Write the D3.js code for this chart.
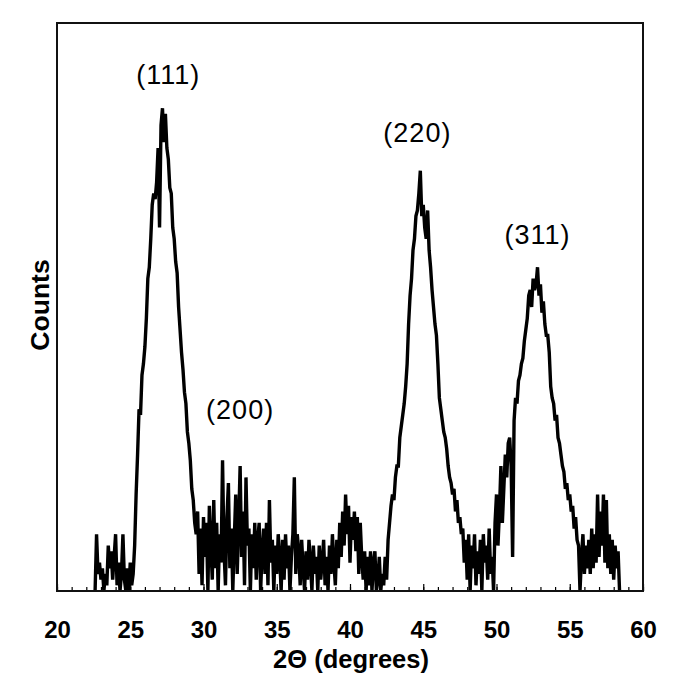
<!DOCTYPE html>
<html>
<head>
<meta charset="utf-8">
<script src="https://cdn.jsdelivr.net/npm/d3@7"></script>
<style>
  body { margin: 0; background: #fff; }
  svg { display: block; font-family: "Liberation Sans", Arial, sans-serif; }
</style>
</head>
<body>
<div id="chart"></div>
<script>
// scan grid (degrees 2-theta)
var scanStart = 22.6, scanStep = 0.1;

// counts, split by region of the scan
var bgLow = [0,10,3,5,2,4,0,3,1,8,
             4,7,2,6,10,1,5,0,3,10,
             2,0,4,0,5,1,3];
var peak111 = [8,17,24,32,31,38,40,43,48,55,
               57,62,68,70,69,72,78,64,82,85,
               79,84,78,76,71,70,64,62,58,56,
               50,46,42,39,35,33,28,26,23,18,
               16,12,10];
var bgMid = [14,3,11,1,13,6,12,0,15,8,
             2,16,4,12,0,10,5,23,7,1,
             13,19,4,11,0,9,17,3,12,22,
             6,14,1,20,8,11,0,10,4,12,
             2,9,12,0,7,11,3,12,1,16,
             5,9,0,8,3,10,6,0,9,2,
             10,4,8,0,6,10,20,3,10,7,
             1,9,4,0,7,2,9,5,0,8,
             3,6,0,8,2,5,9,1,6,0,
             8,3,10,5,1,9,4,12,6,14,
             8,17,10,15,5,13,9,14,7,13,
             3,12,6,2,7,0,6,1,7,0,
             5,7,0,2,6,0,3,1,6,2];
var peak220 = [9,12,15,17,16,20,22,22,27,29,
               31,33,36,40,47,52,55,60,62,66,
               67,70,74,66,68,64,62,67,60,57,
               53,50,47,45,40,34,32,30,28,27,
               25,22,20,19,17,18,14,16,12,13,
               10,11,5,9];
var bgGap = [2,10,0,8,4,10,1,7,3,9,
             0,10,5,8,2,11,3,6,0,12];
var peak311 = [17,8,14,22,12,18,24,20,26,27,
               22,6,30,34,33,37,38,40,41,44,
               46,48,52,53,50,55,53,54,57,52,
               54,49,51,47,45,45,42,36,34,33,
               30,31,27,26,24,22,21,18,19,16,
               17,14,15,11,13,9,8,0];
var bgHigh = [6,10,3,8,4,9,3,11,4,10,
              5,17,6,14,8,17,5,16,4,10,
              3,9,2,8,4,7,0];

// reflection labels
var hklLabels = ["(111)", "(200)", "(220)", "(311)"];
var hklAngles = [27.6, 32.5, 44.6, 52.8];
var hklCounts = [89.3, 30.3, 79.0, 61.1];

var xTicks = [20, 25, 30, 35, 40, 45, 50, 55, 60];

drawChart();

function drawChart(){

    var counts = [].concat(bgLow, peak111, bgMid, peak220, bgGap, peak311, bgHigh);
    var scan = counts.map(function(c, i){
        return { angle: scanStart + i * scanStep, count: c };
    });

    var width = 685, height = 682;
    var m = { left: 57, right: 643, top: 23, bottom: 591 };

    var svg = d3.select("#chart")
      .append("svg")
        .attr("width", width)
        .attr("height", height);

    var x = d3.scaleLinear().domain([20, 60]).range([m.left, m.right]);
    var y = d3.scaleLinear().domain([0, 100]).range([m.bottom, m.top]);

    // minor ticks, every degree
    svg.append("g")
        .attr("transform", "translate(0," + m.bottom + ")")
        .call(d3.axisBottom(x).tickValues(d3.range(20, 61, 1)).tickSize(-4).tickFormat(""))
        .call(function(g){ g.select(".domain").remove(); })
        .selectAll("line").attr("stroke", "#000").attr("stroke-width", 1.2);

    // major ticks + labels
    var xAxis = svg.append("g")
        .attr("transform", "translate(0," + m.bottom + ")")
        .call(d3.axisBottom(x).tickValues(xTicks).tickSize(-7).tickPadding(30).tickFormat(d3.format("d")));
    xAxis.select(".domain").remove();
    xAxis.selectAll("line").attr("stroke", "#000").attr("stroke-width", 1.2);
    xAxis.selectAll("text")
        .attr("fill", "#000")
        .style("font-size", "24px")
        .style("font-weight", "bold")
        .style("font-family", "'Liberation Sans', Arial, sans-serif");

    // the scan
    var line = d3.line()
        .x(function(d){ return x(d.angle); })
        .y(function(d){ return y(d.count); });

    svg.append("path")
        .datum(scan)
        .attr("d", line)
        .attr("fill", "none")
        .attr("stroke", "#000")
        .attr("stroke-width", 3.4)
        .attr("stroke-linejoin", "miter");

    // frame
    svg.append("rect")
        .attr("x", m.left).attr("y", m.top)
        .attr("width", m.right - m.left).attr("height", m.bottom - m.top)
        .attr("fill", "none")
        .attr("stroke", "#111")
        .attr("stroke-width", 2);

    // peak labels
    svg.selectAll(".hkl")
      .data(hklLabels)
      .enter()
      .append("text")
        .attr("class", "hkl")
        .attr("x", function(d, i){ return x(hklAngles[i]); })
        .attr("y", function(d, i){ return y(hklCounts[i]); })
        .attr("text-anchor", "middle")
        .style("font-size", "27px")
        .style("letter-spacing", "1px")
        .text(function(d){ return d; });

    // axis titles
    svg.append("text")
        .attr("x", 351)
        .attr("y", 668)
        .attr("text-anchor", "middle")
        .style("font-size", "25.5px")
        .style("font-weight", "bold")
        .text("2\u0398 (degrees)");

    svg.append("text")
        .attr("transform", "translate(49,305) rotate(-90)")
        .attr("text-anchor", "middle")
        .style("font-size", "26.5px")
        .style("font-weight", "bold")
        .text("Counts");
}
</script>
</body>
</html>
